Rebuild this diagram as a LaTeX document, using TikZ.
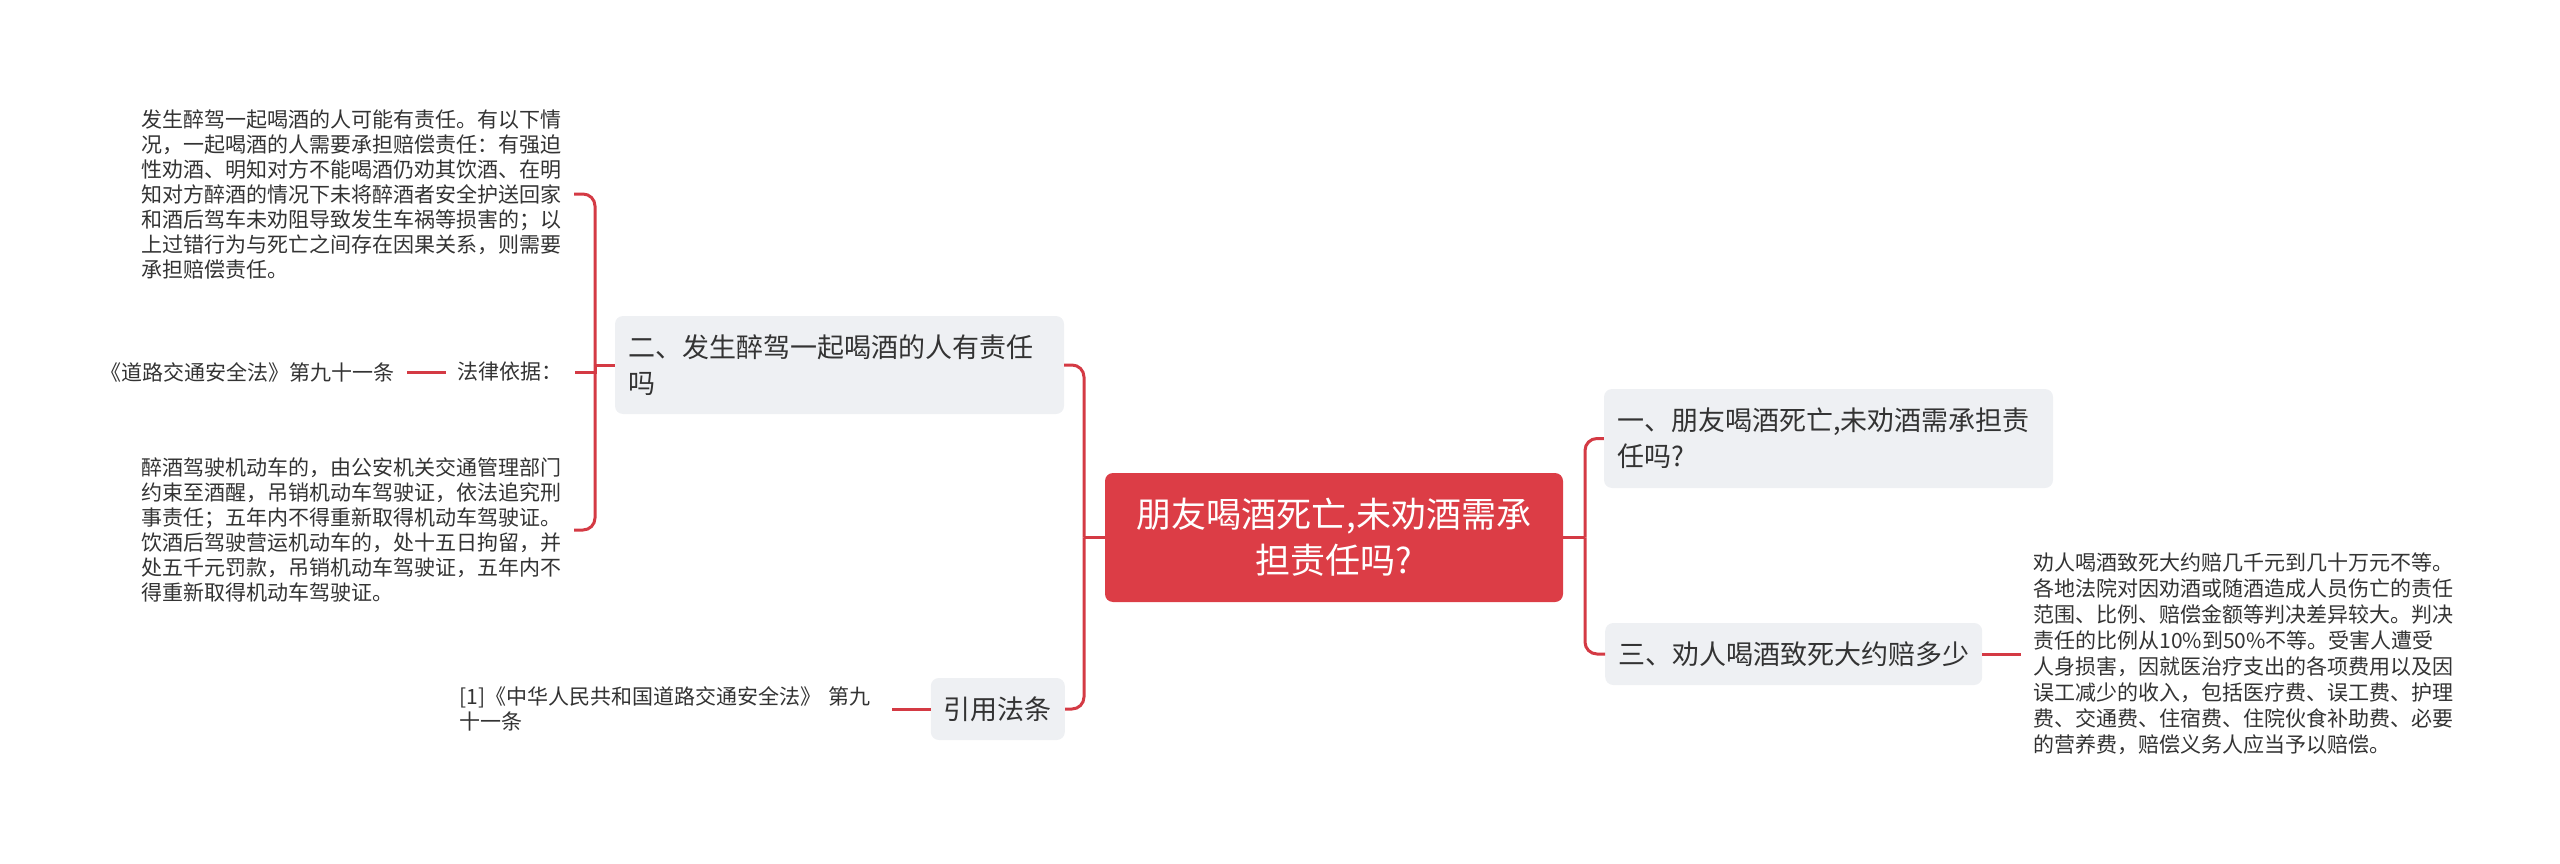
\documentclass[tikz,border=0pt]{standalone}
\usepackage{fontspec}
\setmainfont{Noto Sans CJK SC}
\usepackage{tikz}
\usetikzlibrary{positioning}
\usepackage{xcolor}
\definecolor{mapred}{HTML}{DC3D46}
\definecolor{mapline}{HTML}{D43A44}
\definecolor{boxgray}{HTML}{EEF0F3}
\definecolor{inkgray}{HTML}{333333}

\begin{document}
\begin{tikzpicture}[x=1pt,y=-1pt]
	\tikzstyle{edge}=[draw,line width = 3pt,-,mapline]
	\tikzstyle{elbow}=[edge,rounded corners=12pt]
	\tikzstyle{mainbox}=[fill=mapred,rounded corners=8pt,text=white,align=center,minimum width=458pt,minimum height=129pt,font=\fontsize{35}{46}\selectfont]
	\tikzstyle{topic}=[fill=boxgray,rounded corners=8pt,text=inkgray,align=left,inner xsep=13pt,minimum height=62pt,font=\fontsize{27}{36}\selectfont]
	\tikzstyle{leaftext}=[text=inkgray,align=left,text width=420pt,inner xsep=12pt,font=\fontsize{21}{25}\selectfont]
	\tikzstyle{tagtext}=[text=inkgray,inner xsep=12pt,font=\fontsize{21}{25}\selectfont]
	\useasboundingbox (0,0) rectangle (2560,864);
	\node[mainbox] (q) at (1334,537.5) {朋友喝酒死亡,未劝酒需承\\担责任吗?};
	\node[topic,text width=423pt,minimum height=99pt] (one) at (1828.5,438.5) {一、朋友喝酒死亡,未劝酒需承担责\\任吗?};
	\node[topic,anchor=west] (three) at (1605,654) {三、劝人喝酒致死大约赔多少};
	\node[topic,text width=423pt,minimum height=98pt] (two) at (839.5,365) {二、发生醉驾一起喝酒的人有责任\\吗};
	\node[topic,anchor=east] (cite) at (1065,709) {引用法条};
	\node[leaftext,anchor=east] (harm) at (574,194) {发生醉驾一起喝酒的人可能有责任。有以下情\\况，一起喝酒的人需要承担赔偿责任：有强迫\\性劝酒、明知对方不能喝酒仍劝其饮酒、在明\\知对方醉酒的情况下未将醉酒者安全护送回家\\和酒后驾车未劝阻导致发生车祸等损害的；以\\上过错行为与死亡之间存在因果关系，则需要\\承担赔偿责任。};
	\node[tagtext,anchor=east] (basis) at (575,372) {法律依据：};
	\node[tagtext,left=39pt of basis] (article) {《道路交通安全法》第九十一条};
	\node[leaftext,anchor=east] (penalty) at (574,530) {醉酒驾驶机动车的，由公安机关交通管理部门\\约束至酒醒，吊销机动车驾驶证，依法追究刑\\事责任；五年内不得重新取得机动车驾驶证。\\饮酒后驾驶营运机动车的，处十五日拘留，并\\处五千元罚款，吊销机动车驾驶证，五年内不\\得重新取得机动车驾驶证。};
	\node[leaftext,right=39pt of three,font=\fontsize{21}{26}\selectfont] (amount) {劝人喝酒致死大约赔几千元到几十万元不等。\\各地法院对因劝酒或随酒造成人员伤亡的责任\\范围、比例、赔偿金额等判决差异较大。判决\\责任的比例从10\%到50\%不等。受害人遭受\\人身损害，因就医治疗支出的各项费用以及因\\误工减少的收入，包括医疗费、误工费、护理\\费、交通费、住宿费、住院伙食补助费、必要\\的营养费，赔偿义务人应当予以赔偿。};
	\node[leaftext,left=39pt of cite] (law) {[1]《中华人民共和国道路交通安全法》 第九\\十一条};
	\coordinate (jl) at (1084,537.5);
	\coordinate (jr) at (1585,537.5);
	\coordinate (jt) at (595,365);
	\draw[edge] (q) -- (jl);
	\draw[elbow] (jl) |- (two);
	\draw[elbow] (jl) |- (cite);
	\draw[edge] (q) -- (jr);
	\draw[elbow] (jr) |- (one);
	\draw[elbow] (jr) |- (three);
	\draw[edge] (two) -- (jt);
	\draw[elbow] (jt) |- (harm);
	\draw[elbow] (jt) |- (penalty);
	\draw[edge] (jt) |- (basis);
	\draw[edge] (basis) -- (article);
	\draw[edge] (three) -- (amount);
	\draw[edge] (cite) -- (law);
\end{tikzpicture}
\end{document}
